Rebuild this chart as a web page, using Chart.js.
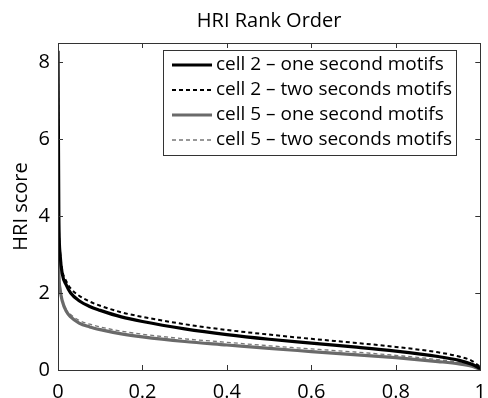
<!DOCTYPE html>
<html>
<head>
<meta charset="utf-8">
<script src="https://cdn.jsdelivr.net/npm/chart.js@4.4.0/dist/chart.umd.min.js"></script>
<style>
html,body{margin:0;padding:0;background:#fff;overflow:hidden;}
#wrap{width:496px;height:398px;}
</style>
</head>
<body>
<div id="wrap"><canvas id="c" width="496" height="398"></canvas></div>
<script>
const titleText = "HRI Rank Order";
const yTitle = "HRI score";
const rankX = [0, 0.002, 0.005, 0.01, 0.02, 0.03, 0.05, 0.075, 0.1, 0.15, 0.2, 0.3, 0.4, 0.5, 0.6, 0.7, 0.8, 0.9, 0.95, 0.98, 1.0];
const cell2One = [8.3, 4.0, 3.0, 2.5, 2.2, 2.0, 1.8, 1.65, 1.55, 1.38, 1.26, 1.07, 0.92, 0.8, 0.7, 0.6, 0.49, 0.35, 0.25, 0.15, 0.04];
const cell2Two = [7.8, 3.9, 3.05, 2.6, 2.3, 2.12, 1.93, 1.78, 1.67, 1.5, 1.38, 1.19, 1.04, 0.92, 0.81, 0.71, 0.6, 0.46, 0.35, 0.24, 0.08];
const cell5One = [4.6, 2.6, 2.1, 1.8, 1.52, 1.38, 1.22, 1.12, 1.05, 0.94, 0.86, 0.74, 0.65, 0.56, 0.48, 0.4, 0.32, 0.22, 0.16, 0.1, 0.02];
const cell5Two = [4.3, 2.5, 2.05, 1.8, 1.56, 1.44, 1.29, 1.19, 1.12, 1.01, 0.93, 0.81, 0.72, 0.63, 0.55, 0.47, 0.38, 0.27, 0.19, 0.11, 0.03];
const seriesLabels = ["cell 2 \u2013 one second motifs", "cell 2 \u2013 two seconds motifs", "cell 5 \u2013 one second motifs", "cell 5 \u2013 two seconds motifs"];

const FONT = "'Open Sans', 'Noto Sans', sans-serif";
const pts = arr => arr.map((v, i) => ({x: rankX[i], y: v}));

const frame = {
  id: 'frame',
  afterDraw(chart) {
    const ctx = chart.ctx, a = chart.chartArea;
    const xs = chart.scales.x, ys = chart.scales.y;
    ctx.save();
    ctx.strokeStyle = '#333';
    ctx.lineWidth = 1;
    ctx.strokeRect(Math.round(a.left) + 0.5, Math.round(a.top) + 0.5, Math.round(a.right - a.left), Math.round(a.bottom - a.top));
    const L = 5;
    ctx.beginPath();
    xs.ticks.forEach(t => {
      const px = Math.round(xs.getPixelForValue(t.value)) + 0.5;
      ctx.moveTo(px, a.bottom); ctx.lineTo(px, a.bottom - L);
      ctx.moveTo(px, a.top); ctx.lineTo(px, a.top + L);
    });
    ys.ticks.forEach(t => {
      const py = Math.round(ys.getPixelForValue(t.value)) + 0.5;
      ctx.moveTo(a.left, py); ctx.lineTo(a.left + L, py);
      ctx.moveTo(a.right, py); ctx.lineTo(a.right - L, py);
    });
    ctx.stroke();
    // title
    ctx.fillStyle = '#000';
    ctx.font = '20px ' + FONT;
    ctx.textAlign = 'center';
    ctx.textBaseline = 'middle';
    ctx.fillText(titleText, (a.left + a.right) / 2, 21);
    // legend
    const bx = 163, by = 50, bw = 293, bh = 105;
    ctx.fillStyle = '#fff';
    ctx.fillRect(bx, by, bw, bh);
    ctx.strokeStyle = '#333';
    ctx.strokeRect(bx + 0.5, by + 0.5, bw, bh);
    chart.data.datasets.forEach((ds, i) => {
      const yy = 65 + i * 25;
      ctx.save();
      ctx.strokeStyle = ds.borderColor;
      ctx.lineWidth = ds.borderWidth;
      ctx.setLineDash(ds.borderDash || []);
      ctx.beginPath();
      ctx.moveTo(172, yy); ctx.lineTo(212, yy);
      ctx.stroke();
      ctx.restore();
      ctx.fillStyle = '#000';
      ctx.textAlign = 'left';
      ctx.font = '19px ' + FONT;
      ctx.fillText(ds.label, 216, yy);
    });
    ctx.restore();
  }
};

new Chart(document.getElementById('c'), {
  type: 'line',
  data: {
    datasets: [
      {label: seriesLabels[0], data: pts(cell2One), borderColor: '#000', borderWidth: 3.2},
      {label: seriesLabels[1], data: pts(cell2Two), borderColor: '#000', borderWidth: 2, borderDash: [4, 3]},
      {label: seriesLabels[2], data: pts(cell5One), borderColor: '#6a6a6a', borderWidth: 3.2},
      {label: seriesLabels[3], data: pts(cell5Two), borderColor: '#777', borderWidth: 1.3, borderDash: [4, 3]}
    ]
  },
  options: {
    responsive: false,
    animation: false,
    events: [],
    elements: {point: {radius: 0}, line: {cubicInterpolationMode: 'monotone', fill: false}},
    layout: {padding: {top: 43, right: 9, bottom: 0, left: 0}},
    plugins: {legend: {display: false}, title: {display: false}, tooltip: {enabled: false}},
    scales: {
      x: {
        type: 'linear', min: 0, max: 1,
        ticks: {stepSize: 0.2, color: '#000', font: {family: FONT, size: 20}, padding: 10, maxRotation: 0,
                callback: v => String(Number(v.toFixed(1)))},
        grid: {display: false, drawTicks: false},
        border: {display: false},
        afterFit: s => { s.height = 28; }
      },
      y: {
        min: 0, max: 8.5,
        ticks: {stepSize: 2, includeBounds: false, color: '#000', font: {family: FONT, size: 20}, padding: 8},
        grid: {display: false, drawTicks: false},
        border: {display: false},
        title: {display: true, text: yTitle, color: '#000', font: {family: FONT, size: 20}, padding: {top: 9, bottom: 0}},
        afterFit: s => { s.width = 58; }
      }
    }
  },
  plugins: [frame]
});
</script>
</body>
</html>
